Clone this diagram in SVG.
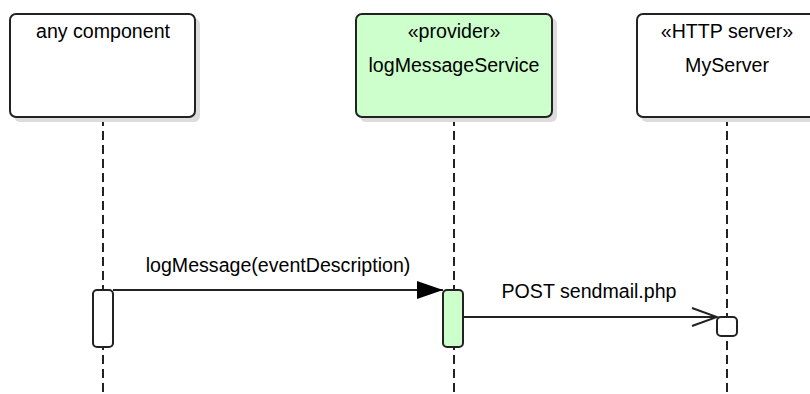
<svg xmlns="http://www.w3.org/2000/svg" width="810" height="394" viewBox="0 0 810 394">
<style>
.shadow{fill:#dcdcdc;stroke:none}
.box{stroke:#222;stroke-width:2}
.life{stroke:#222;stroke-width:2;stroke-dasharray:9 5;fill:none}
.act{stroke:#222;stroke-width:2}
.msg{stroke:#222;stroke-width:2;fill:none}
text{font-family:"Liberation Sans",Arial,sans-serif;font-size:19.6px;fill:#000;text-anchor:middle}
</style>
<defs>
<marker id="filled" viewBox="0 0 26 18" refX="26" refY="9" markerWidth="26" markerHeight="18" markerUnits="userSpaceOnUse" orient="auto">
<path d="M0,0 L26,9 L0,18 Z" fill="#000"/>
</marker>
<marker id="open" viewBox="0 0 28 20" refX="26" refY="10" markerWidth="28" markerHeight="20" markerUnits="userSpaceOnUse" orient="auto">
<path d="M1,1 L26,10 L1,19" fill="none" stroke="#222" stroke-width="2"/>
</marker>
</defs>
<rect width="810" height="394" fill="#fff"/>
<g id="connectors">
<line class="life" x1="103" y1="117" x2="103" y2="394"/>
<line class="life" x1="454" y1="117" x2="454" y2="394"/>
<line class="life" x1="727" y1="117" x2="727" y2="394"/>
<line class="msg" x1="113" y1="290" x2="443" y2="290" marker-end="url(#filled)"/>
<text x="278" y="272">logMessage(eventDescription)</text>
<line class="msg" x1="463" y1="317" x2="717" y2="317" marker-end="url(#open)"/>
<text x="589" y="298">POST sendmail.php</text>
</g>
<g id="anyComponent">
<rect class="shadow" x="14" y="18" width="186" height="104" rx="6"/>
<rect class="box" x="10" y="14" width="185" height="103" rx="6" fill="#fff"/>
<text x="103" y="38">any component</text>
</g>
<g id="logMessageService">
<rect class="shadow" x="360" y="18" width="197" height="104" rx="6"/>
<rect class="box" x="356" y="14" width="196" height="103" rx="6" fill="#ccffcc"/>
<text x="454" y="38">«provider»</text>
<text x="454" y="72">logMessageService</text>
</g>
<g id="MyServer">
<rect class="shadow" x="641" y="18" width="181" height="104" rx="6"/>
<rect class="box" x="637" y="14" width="180" height="103" rx="6" fill="#fff"/>
<text x="727" y="38">«HTTP server»</text>
<text x="727" y="72">MyServer</text>
</g>
<g id="activation1">
<rect class="act" x="93" y="290" width="20" height="57" rx="4" fill="#fff"/>
</g>
<g id="activation2">
<rect class="act" x="443" y="290" width="20" height="57" rx="4" fill="#ccffcc"/>
</g>
<g id="activation3">
<rect class="act" x="717" y="317" width="20" height="19" rx="4" fill="#fff"/>
</g>
</svg>
